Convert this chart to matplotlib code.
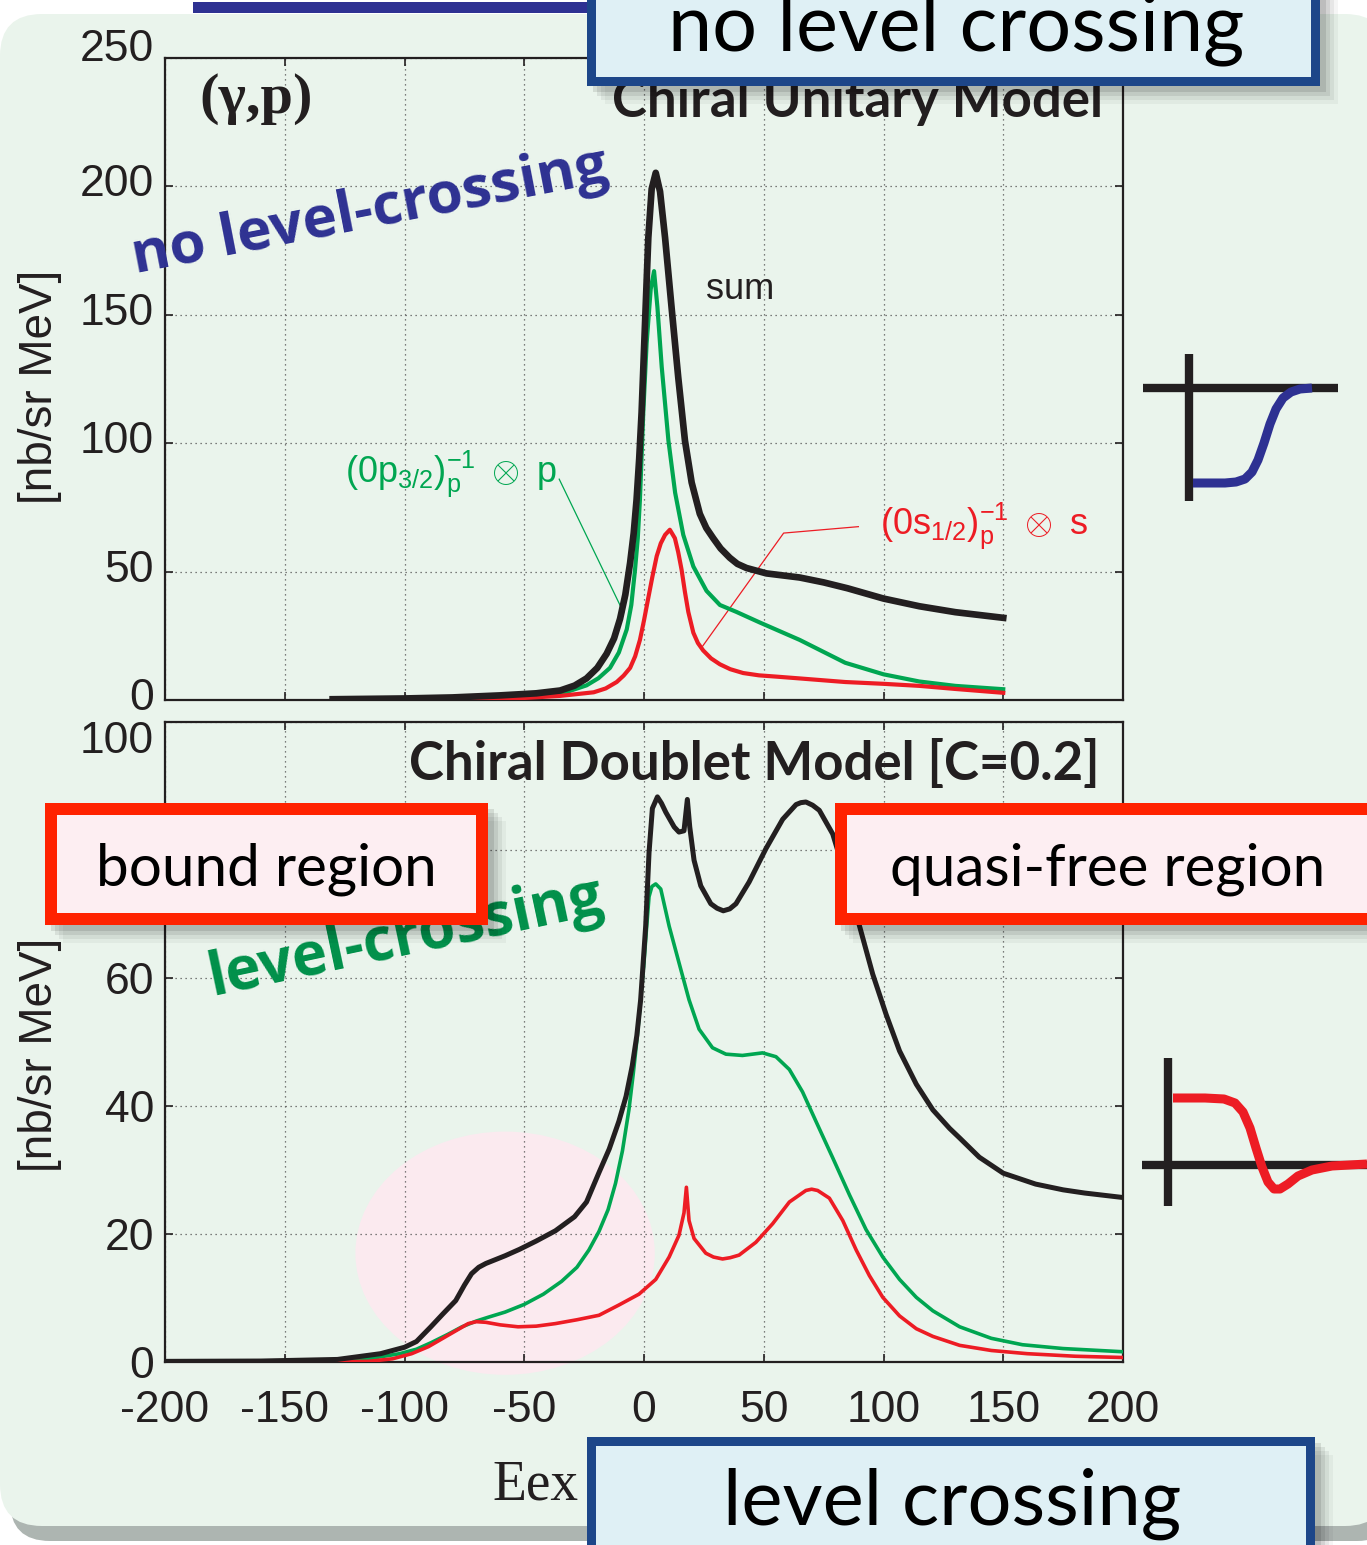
import matplotlib
matplotlib.use("Agg")
import matplotlib.pyplot as plt
from matplotlib.patches import FancyBboxPatch, Rectangle, Ellipse
from matplotlib.transforms import ScaledTranslation

W, H = 1367, 1545

# (gamma,p) spectrum, chiral unitary model
top_sum_e = [-130, -100, -80, -60, -45, -35, -29, -24, -19.5, -15.6, -12.5, -10, -7.8, -5.8, -4.3, -3.1,
             -2, -1, 0.4, 1.8, 3.2, 4.9, 6.7, 8.8, 11.5, 14.3, 17.1, 19.9, 23.3, 26, 28.9, 32, 35.8, 39,
             42.8, 51.1, 65, 75, 85, 100, 115, 130, 150]
top_sum = [0.3, 0.6, 1.0, 1.8, 2.6, 3.7, 5.6, 8.4, 12.5, 18, 24, 31.6, 41, 53.4, 65, 78,
           94, 112, 146, 180, 199, 205.3, 198, 180, 153, 125.6, 101, 84.7, 72.5, 67, 63, 59, 55.4, 53,
           51.4, 49.3, 47.7, 45.8, 43.5, 39.5, 36.5, 34.2, 32]

top_p_e = [-130, -100, -80, -60, -45, -35, -24, -19, -14.2, -10.5, -7.2, -5.3, -3.75, -2.6, -1.7, -1,
           -0.3, 1.1, 2.8, 4.2, 5.6, 7.4, 10.2, 13, 16.4, 20.6, 26.1, 31.7, 38.6, 48.3, 65, 84, 100,
           115, 130, 150]
top_p = [0.2, 0.4, 0.7, 1.2, 1.7, 2.3, 5.7, 8.5, 12.5, 18.5, 27.5, 37, 50.7, 63, 78, 95,
         112, 139, 160, 167, 153, 129.7, 101, 80.7, 64.3, 52, 42.5, 37, 34.3, 30.2, 23.4, 14.5, 10,
         7.2, 5.5, 4.2]

top_s_e = [-130, -80, -50, -35, -21, -16, -11.4, -8.5, -5.8, -3.7, -1.7, 0, 1.8, 3.5, 5.3, 7, 8.8,
           10.8, 12.9, 14.3, 15.7, 17.1, 18.5, 20.6, 22.5, 24.7, 28, 31.7, 36, 41.4, 48, 55.3, 65, 84,
           100, 115, 130, 150]
top_s = [0.1, 0.3, 0.8, 1.6, 3, 4.5, 7, 9.5, 12.5, 17, 23.4, 31, 39.8, 48, 56, 61, 64.3,
         66.3, 63, 57.5, 50.7, 42, 34.3, 26.2, 22.2, 19.3, 16.2, 13.9, 12, 10.5, 9.6, 9.1, 8.4, 7,
         6.3, 5.5, 4.3, 2.8]

# chiral doublet model [C=0.2]
bot_sum_e = [-200, -160, -128, -110, -100, -95, -89, -84, -78.6, -75, -72, -69, -66, -62, -58, -52, -45,
             -37, -29, -24, -18.8, -14.5, -10.5, -7.5, -4.9, -3, -1.4, 0.7, 2.1, 3.5, 5.6, 7.3, 9.1,
             12.6, 14.6, 16.7, 18.1, 19.1, 20.9, 23.7, 27.9, 30.5, 33.1, 35.8, 38.4, 43.9, 50.9, 57.9,
             63.5, 65.5, 67.6, 70.4, 73.2, 78.8, 84.4, 90, 95.5, 101.1, 106.7, 113.7, 120.6, 127.6,
             131.8, 140, 150, 163.5, 175, 184, 200]
bot_sum = [0.1, 0.15, 0.4, 1.3, 2.3, 3.2, 5.5, 7.5, 9.6, 12, 13.8, 14.8, 15.4, 16, 16.6, 17.6, 18.9,
           20.5, 22.7, 25, 29.6, 33.3, 37.6, 41.5, 46.3, 51, 56.6, 68.1, 79.6, 86.5, 88.3, 87.3, 85.9,
           83.6, 82.8, 83, 87.9, 83.6, 78.4, 74.4, 71.6, 70.9, 70.5, 70.8, 71.6, 75, 80.2, 84.8,
           87.1, 87.4, 87.5, 87, 86.2, 82.5, 75.6, 68.1, 60.6, 54.3, 48.6, 43.4, 39.4, 36.5,
           35, 32, 29.5, 27.8, 26.9, 26.4, 25.7]

bot_p_e = [-200, -150, -128, -115, -102, -95, -89, -82, -76, -70, -65, -58, -50, -42, -34.4, -28, -23,
           -18.8, -15, -11.9, -9, -6.3, -4.5, -2.8, -1.3, 0, 1, 2.1, 3.3, 4.9, 7, 10.5, 14.6, 18.8,
           23, 28.6, 34.2, 41.1, 49.5, 55.1, 60.7, 66.2, 71.8, 78.8, 85.8, 92.7, 99.7, 106.7, 113.7,
           120.6, 131.8, 145, 158, 175, 200]
bot_p = [0, 0.05, 0.1, 0.5, 1.3, 2, 3, 4.3, 5.5, 6.4, 7, 7.8, 9, 10.6, 12.6, 14.8, 17.5,
         20.4, 23.8, 27.9, 33, 39.4, 45, 50.9, 57, 62.4, 67.5, 72.7, 74.3, 74.7, 73.9, 68.1, 62.4, 56.6,
         52, 49.1, 48.1, 47.9, 48.3, 47.7, 45.7, 42.2, 37.6, 31.9, 26.1, 20.7, 16.4, 12.9, 10.1,
         8, 5.5, 3.7, 2.7, 2.1, 1.6]

bot_s_e = [-200, -130, -115, -105, -97, -90, -84, -78, -73.4, -70, -66, -60, -52.6, -45, -37, -28,
           -18.8, -10.5, -2.1, 4.9, 10.5, 14.6, 16.7, 17.7, 18.8, 20.9, 25.8, 29, 32.8, 36, 39.7, 46.7,
           53.7, 60.7, 67.6, 70, 72.5, 77.4, 83, 88.6, 94.1, 99.7, 106.7, 113.7, 120.6, 131.8, 145,
           160, 180, 200]
bot_s = [0, 0.05, 0.1, 0.5, 1.3, 2.4, 3.7, 5, 6, 6.3, 6.2, 5.8, 5.5, 5.6, 6, 6.6,
         7.3, 8.9, 10.6, 12.9, 16.4, 19.8, 23.3, 27.3, 22.1, 19.3, 17, 16.4, 16.1, 16.3, 16.7, 18.7,
         21.6, 25, 26.8, 27, 26.8, 25.6, 22.1, 17.5, 13.5, 10.1, 7.2, 5.2, 4, 2.6, 1.8,
         1.3, 0.9, 0.7]

x_ticks = [-200, -150, -100, -50, 0, 50, 100, 150, 200]
top_y_ticks = [0, 50, 100, 150, 200, 250]
bot_y_ticks = [0, 20, 40, 60, 80, 100]

# schematic potentials drawn beside the panels (pixel coordinates)
pot_blue_x = [1193, 1225, 1236, 1245, 1252, 1258, 1264, 1270, 1276, 1283, 1291, 1300, 1312]
pot_blue_y = [483, 483, 482, 479, 472, 460, 443, 424, 409, 398, 392, 389, 388]
pot_red_x = [1173, 1205, 1224, 1235, 1243, 1250, 1256, 1262, 1268, 1274, 1280, 1288, 1298, 1312,
             1332, 1367]
pot_red_y = [1098, 1098, 1099, 1103, 1112, 1128, 1148, 1167, 1182, 1189, 1189, 1184, 1176, 1170,
             1166, 1164]

BLACK = "#231f20"
GREEN = "#00a651"
RED = "#ed1c24"
NAVY = "#2e3192"
SANS = ["Liberation Sans", "DejaVu Sans"]
BOXFONT = ["Lato", "DejaVu Sans"]

plt.rcParams["font.family"] = SANS
plt.rcParams["axes.unicode_minus"] = False
plt.rcParams["mathtext.fontset"] = "custom"
plt.rcParams["mathtext.rm"] = "Liberation Sans"
plt.rcParams["mathtext.it"] = "Liberation Sans"
plt.rcParams["mathtext.sf"] = "Liberation Sans"

fig = plt.figure(figsize=(W / 100, H / 100), dpi=100)
fig.patch.set_facecolor("white")


def pixel_axes(z):
    a = fig.add_axes([0, 0, 1, 1], zorder=z)
    a.set_xlim(0, W)
    a.set_ylim(H, 0)
    a.axis("off")
    a.patch.set_alpha(0)
    return a


bg = pixel_axes(0)
bg.add_patch(FancyBboxPatch((10, 40), W + 20, 1501, boxstyle="round,pad=0,rounding_size=40",
                            fc="#adb5b1", ec="none"))
bg.add_patch(FancyBboxPatch((0, 14), W + 20, 1512, boxstyle="round,pad=0,rounding_size=42",
                            fc="#eaf4ec", ec="none"))
bg.add_patch(Rectangle((193, 2), 400, 11, fc=NAVY, ec="none"))


def frame(ax, yticks, ylim):
    ax.set_facecolor("none")
    ax.set_xlim(-200, 200)
    ax.set_ylim(*ylim)
    ax.set_xticks(x_ticks)
    ax.set_yticks(yticks)
    ax.grid(True, color="#555555", linestyle=(0, (1, 3)), linewidth=0.9)
    ax.tick_params(direction="in", length=6, width=1.2, top=True, right=True,
                   labelsize=32, colors=BLACK, pad=8)
    for s in ax.spines.values():
        s.set_linewidth(1.6)
        s.set_color(BLACK)


def nudge(label, dy_px):
    label.set_transform(label.get_transform() + ScaledTranslation(0, dy_px / 100, fig.dpi_scale_trans))


ax1 = fig.add_axes([165 / W, 1 - 700 / H, 958 / W, 642 / H], zorder=2)
frame(ax1, top_y_ticks, (0, 250))
ax1.tick_params(labelbottom=False)
for lab, val in zip(ax1.get_yticklabels(), top_y_ticks):
    nudge(lab, 13 if val == 250 else 6)
ax1.plot(top_p_e, top_p, color=GREEN, lw=3.0, zorder=3)
ax1.plot(top_s_e, top_s, color=RED, lw=3.0, zorder=3)
ax1.plot(top_sum_e, top_sum, color=BLACK, lw=4.8, zorder=4)
ax1.text(-162, 234, "(γ,p)", fontsize=42, fontweight="bold", family=["Liberation Serif", "DejaVu Serif"],
         ha="center", va="center", color=BLACK)
ax1.text(89, 233, "Chiral Unitary Model", fontsize=38, fontweight="bold", family=BOXFONT,
         ha="center", va="center", color=BLACK, clip_on=False)
ax1.text(40, 160, "sum", fontsize=26, ha="center", va="center", color=BLACK)
ax1.text(-125, 88, r"$\mathrm{(0p_{3/2})^{-1}_{p}}\ \otimes\ \mathrm{p}$", fontsize=26,
         ha="left", va="center", color=GREEN)
ax1.plot([-35.4, -8.5], [86, 34], color=GREEN, lw=0.9, zorder=2)
ax1.text(98.5, 68, r"$\mathrm{(0s_{1/2})^{-1}_{p}}\ \otimes\ \mathrm{s}$", fontsize=26,
         ha="left", va="center", color=RED)
ax1.plot([89.5, 58.3, 24.5], [67.5, 65, 21], color=RED, lw=0.9, zorder=2)

ax2 = fig.add_axes([165 / W, 1 - 1362 / H, 958 / W, 640 / H], zorder=2)
frame(ax2, bot_y_ticks, (0, 100))
ax2.tick_params(axis="x", pad=20)
for lab, val in zip(ax2.get_yticklabels(), bot_y_ticks):
    if val == 100:
        nudge(lab, -15)
ax2.add_patch(Ellipse((-58, 17), 125, 38, fc="#fde9f0", ec="none", alpha=0.9, zorder=1.5,
                      clip_on=False))
ax2.plot(bot_p_e, bot_p, color=GREEN, lw=2.6, zorder=3)
ax2.plot(bot_s_e, bot_s, color=RED, lw=2.6, zorder=3)
ax2.plot(bot_sum_e, bot_sum, color=BLACK, lw=3.6, zorder=4)
ax2.text(46, 93.5, "Chiral Doublet Model [C=0.2]", fontsize=38, fontweight="bold", family=BOXFONT,
         ha="center", va="center", color=BLACK)

for yc in (387, 1055):
    bg.text(40, yc, "[nb/sr MeV]", rotation=90, fontsize=33, ha="center", va="center", color=BLACK)
bg.text(535, 1485, "Eex", fontsize=40, family=["Liberation Serif", "DejaVu Serif"],
        ha="center", va="center", color=BLACK)

ov = pixel_axes(5)
ov.text(370, 212, "no level-crossing", rotation=11, fontsize=42, fontweight="bold",
        family=["Open Sans", "DejaVu Sans"], color=NAVY, ha="center", va="center", zorder=1)
ov.text(406, 938, "level-crossing", rotation=12, fontsize=43, fontweight="bold",
        family=["Open Sans", "DejaVu Sans"], color="#00904a", ha="center", va="center", zorder=1)


def label_box(x0, y0, x1, y1, edge, face, border, text, size, tx, ty):
    w, h = x1 - x0, y1 - y0
    for k, a in [(18, 0.04), (14, 0.06), (10, 0.08), (6, 0.1)]:
        ov.add_patch(Rectangle((x0 + k, y0 + k), w, h, fc="black", ec="none", alpha=a, zorder=2))
    ov.add_patch(Rectangle((x0, y0), w, h, fc=edge, ec="none", zorder=3))
    ov.add_patch(Rectangle((x0 + border, y0 + border), w - 2 * border, h - 2 * border,
                           fc=face, ec="none", zorder=3))
    ov.text(tx, ty, text, fontsize=size, family=BOXFONT, color="black",
            ha="center", va="baseline", zorder=4)


label_box(587, -20, 1320, 86, "#1d4689", "#dff0f5", 9, "no level crossing", 57, 956, 50)
label_box(587, 1437, 1315, 1575, "#1d4689", "#dff0f5", 9, "level crossing", 56, 952, 1525)
label_box(45, 803, 488, 925, "#ff2200", "#fdeef2", 12, "bound region", 42, 266, 885)
label_box(835, 803, 1400, 925, "#ff2200", "#fdeef2", 12, "quasi-free region", 42, 1108, 885)

# potential sketches
ov.plot([1143, 1338], [388, 388], color=BLACK, lw=6, solid_capstyle="butt")
ov.plot([1189, 1189], [354, 501], color=BLACK, lw=6, solid_capstyle="butt")
ov.plot(pot_blue_x, pot_blue_y, color=NAVY, lw=6.5, solid_capstyle="butt")
ov.plot([1142, 1367], [1165, 1165], color=BLACK, lw=6, solid_capstyle="butt")
ov.plot([1168, 1168], [1058, 1206], color=BLACK, lw=6, solid_capstyle="butt")
ov.plot(pot_red_x, pot_red_y, color=RED, lw=6.5, solid_capstyle="butt")

fig.savefig("out.png", dpi=100)
